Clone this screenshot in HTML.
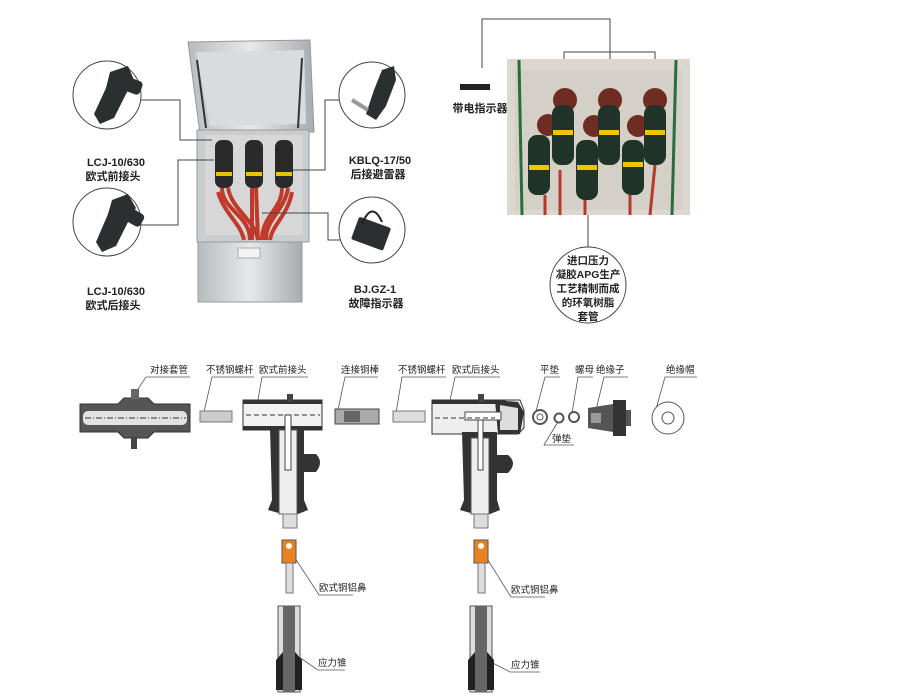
<!DOCTYPE html>
<html><head><meta charset="utf-8"><style>
html,body{margin:0;padding:0;background:#fff;}
svg{display:block;}
text{font-family:"Liberation Sans","Noto Sans CJK SC",sans-serif;fill:#222;}
</style></head><body>
<svg width="904" height="699" viewBox="0 0 904 699" xmlns="http://www.w3.org/2000/svg">
<defs>
<linearGradient id="steel" x1="0" x2="1"><stop offset="0" stop-color="#b9bcbf"/><stop offset="0.5" stop-color="#e6e8ea"/><stop offset="1" stop-color="#a9acaf"/></linearGradient>
</defs>
<!-- ===== cabinet ===== -->
<polygon points="188,42 310,40 314,132 200,134" fill="url(#steel)" stroke="#999"/>
<polygon points="196,52 304,50 306,124 210,126" fill="#d9dbdc"/>
<line x1="197" y1="60" x2="206" y2="128" stroke="#333" stroke-width="2"/>
<line x1="302" y1="58" x2="298" y2="128" stroke="#333" stroke-width="2"/>
<rect x="197" y="130" width="112" height="112" fill="#c9cdd0" stroke="#999"/>
<rect x="205" y="135" width="98" height="100" fill="#d6d7d6"/>
<rect x="198" y="242" width="104" height="60" fill="url(#steel)" stroke="#999"/>
<rect x="238" y="248" width="22" height="10" fill="#f4f4f4" stroke="#aaa"/>
<g fill="#2a2a2a">
<rect x="215" y="140" width="18" height="48" rx="7"/>
<rect x="245" y="140" width="18" height="48" rx="7"/>
<rect x="275" y="140" width="18" height="48" rx="7"/>
</g>
<g fill="#e9c400"><rect x="216" y="172" width="16" height="4"/><rect x="246" y="172" width="16" height="4"/><rect x="276" y="172" width="16" height="4"/></g>
<g stroke="#c0392b" stroke-width="4" fill="none">
<path d="M222 188 C222 210 250 215 250 240"/><path d="M228 188 C232 210 255 220 258 240"/>
<path d="M252 188 L252 240"/><path d="M256 188 L258 240"/>
<path d="M282 188 C282 210 262 215 262 240"/><path d="M288 188 C285 210 265 220 266 240"/>
<path d="M218 192 C225 215 240 222 244 240"/><path d="M292 192 C288 215 272 225 270 240"/>
</g>
<g stroke="#444" fill="none" stroke-width="1">
<polyline points="140,100 180,100 180,140 212,140"/>
<polyline points="140,225 178,225 178,160 214,160"/>
<polyline points="340,100 325,100 325,170 293,170"/>
<polyline points="340,240 328,240 328,213 262,213"/>
</g>
<circle cx="107" cy="95" r="34" fill="#fff" stroke="#444"/>
<circle cx="107" cy="222" r="34" fill="#fff" stroke="#444"/>
<circle cx="372" cy="95" r="33" fill="#fff" stroke="#444"/>
<circle cx="372" cy="230" r="33" fill="#fff" stroke="#444"/>
<g fill="#2b2f2f">
<polygon points="110,72 128,66 134,80 126,94 114,118 100,124 94,114 106,88"/>
<rect x="120" y="78" width="22" height="14" rx="4" transform="rotate(20 130 85)"/>
<polygon points="112,200 128,194 136,208 128,222 116,246 102,252 96,242 108,214"/>
<rect x="122" y="208" width="22" height="14" rx="4" transform="rotate(30 130 215)"/>
<polygon points="382,70 394,66 396,80 386,106 376,120 366,114 374,90"/>
<rect x="354" y="222" width="34" height="24" rx="2" transform="rotate(20 372 234)"/>
</g>
<line x1="352" y1="100" x2="368" y2="110" stroke="#999" stroke-width="4"/>
<path d="M362 224 Q372 200 382 222" stroke="#222" fill="none" stroke-width="2"/>
<g font-size="11" text-anchor="middle" font-weight="bold">
<text x="116" y="166">LCJ-10/630</text><text x="113" y="180">欧式前接头</text>
<text x="116" y="295">LCJ-10/630</text><text x="113" y="309">欧式后接头</text>
<text x="380" y="164">KBLQ-17/50</text><text x="378" y="178">后接避雷器</text>
<text x="375" y="293">BJ.GZ-1</text><text x="376" y="307">故障指示器</text>
</g>
<!-- ===== right photo ===== -->
<g stroke="#444" fill="none">
<polyline points="482,68 482,19 610,19 610,90"/>
<polyline points="564,90 564,52 655,52 655,90"/>
<line x1="588" y1="210" x2="588" y2="248"/>
</g>
<rect x="507" y="59" width="183" height="156" fill="#dcd8cf"/>
<rect x="515" y="70" width="168" height="140" fill="#d4d0c7"/>
<line x1="519" y1="60" x2="522" y2="215" stroke="#2b6b3a" stroke-width="3"/>
<line x1="676" y1="60" x2="672" y2="215" stroke="#2b6b3a" stroke-width="3"/>
<g fill="#6e2c22"><circle cx="565" cy="100" r="12"/><circle cx="610" cy="100" r="12"/><circle cx="655" cy="100" r="12"/><circle cx="548" cy="125" r="11"/><circle cx="594" cy="126" r="11"/><circle cx="638" cy="126" r="11"/></g>
<g fill="#1f3328">
<rect x="552" y="105" width="22" height="60" rx="9"/><rect x="598" y="105" width="22" height="60" rx="9"/><rect x="644" y="105" width="22" height="60" rx="9"/>
<rect x="528" y="135" width="22" height="60" rx="9"/><rect x="576" y="140" width="22" height="60" rx="9"/><rect x="622" y="140" width="22" height="55" rx="9"/>
</g>
<g fill="#f0c400"><rect x="553" y="130" width="20" height="5"/><rect x="599" y="130" width="20" height="5"/><rect x="645" y="130" width="20" height="5"/><rect x="529" y="165" width="20" height="5"/><rect x="577" y="165" width="20" height="5"/><rect x="623" y="162" width="20" height="5"/></g>
<g stroke="#b33a2c" stroke-width="3" fill="none"><path d="M545 195 L545 215"/><path d="M585 200 L585 215"/><path d="M630 195 L630 215"/><path d="M560 170 L560 215"/><path d="M655 165 L650 215"/></g>
<rect x="460" y="84" width="30" height="6" fill="#222"/>
<text x="480" y="112" font-size="11" text-anchor="middle" font-weight="bold">带电指示器</text>
<circle cx="588" cy="285" r="38" fill="#fff" stroke="#444"/>
<g font-size="10.5" text-anchor="middle" font-weight="bold"><text x="588" y="264">进口压力</text><text x="588" y="278">凝胶APG生产</text><text x="588" y="292">工艺精制而成</text><text x="588" y="306">的环氧树脂</text><text x="588" y="320">套管</text></g>
<!-- ===== bottom exploded diagram ===== -->
<g font-size="9.5">
<text x="150" y="373">对接套管</text><text x="206" y="373">不锈钢螺杆</text><text x="259" y="373">欧式前接头</text>
<text x="341" y="373">连接铜棒</text><text x="398" y="373">不锈钢螺杆</text><text x="452" y="373">欧式后接头</text>
<text x="540" y="373">平垫</text><text x="575" y="373">螺母</text><text x="596" y="373">绝缘子</text><text x="666" y="373">绝缘帽</text>
<text x="552" y="442">弹垫</text>
<text x="319" y="591">欧式铜铝鼻</text><text x="511" y="593">欧式铜铝鼻</text>
<text x="318" y="666">应力锥</text><text x="511" y="668">应力锥</text>
</g>
<g stroke="#555" fill="none" stroke-width="0.8">
<polyline points="132,398 146,377 190,377"/><polyline points="204,412 212,377 254,377"/>
<polyline points="255,417 262,377 308,377"/><polyline points="338,410 345,377 378,377"/>
<polyline points="396,413 402,377 446,377"/><polyline points="448,410 455,377 500,377"/>
<polyline points="535,415 545,377 560,377"/><polyline points="572,413 578,377 593,377"/>
<polyline points="596,410 604,377 628,377"/><polyline points="653,420 665,377 697,377"/>
<polyline points="559,420 544,445 574,445"/>
<polyline points="293,555 319,595 353,595"/><polyline points="486,557 511,597 545,597"/>
<polyline points="296,655 318,670 345,670"/><polyline points="487,660 510,672 540,672"/>
</g>
<!-- sleeve -->
<path d="M80 404 L118 404 L124 398 L148 398 L154 404 L190 404 L190 432 L154 432 L148 438 L124 438 L118 432 L80 432 Z" fill="#555" stroke="#333"/>
<rect x="83" y="411" width="104" height="14" rx="5" fill="#e2e2e2"/>
<rect x="131" y="389" width="8" height="10" fill="#666"/>
<rect x="131" y="437" width="6" height="12" fill="#444"/>
<line x1="85" y1="418" x2="186" y2="418" stroke="#333" stroke-dasharray="6,2,1,2"/>
<rect x="200" y="411" width="32" height="11" fill="#ccc" stroke="#777"/>
<!-- front connector -->
<rect x="243" y="400" width="79" height="30" fill="#f2f2f2" stroke="#333"/>
<rect x="243" y="400" width="79" height="4" fill="#333"/>
<rect x="243" y="426" width="79" height="4" fill="#333"/>
<rect x="287" y="394" width="6" height="8" fill="#444"/>
<path d="M270 428 L304 428 L304 500 L308 510 L298 514 L282 514 L268 510 L272 500 Z" fill="#333"/>
<rect x="279" y="430" width="18" height="84" fill="#eee" stroke="#555"/>
<rect x="285" y="415" width="6" height="55" fill="#fff" stroke="#444"/>
<rect x="283" y="514" width="14" height="14" fill="#ddd" stroke="#777"/>
<path d="M304 454 L316 454 Q324 462 316 472 L304 472 Z" fill="#333"/>
<line x1="246" y1="415" x2="320" y2="415" stroke="#333" stroke-dasharray="5,3"/>
<rect x="335" y="409" width="44" height="15" fill="#aaa" stroke="#444"/>
<rect x="344" y="411" width="16" height="11" fill="#666"/>
<rect x="393" y="411" width="32" height="11" fill="#ddd" stroke="#777"/>
<!-- rear connector -->
<path d="M432 400 L520 400 L524 410 L524 428 L518 434 L432 434 Z" fill="#eee" stroke="#333"/>
<path d="M432 400 L505 400 L508 404 L432 404 Z" fill="#333"/>
<path d="M495 400 L518 402 L524 412 L520 434 L498 434 Z" fill="#333"/>
<path d="M500 405 L518 408 L518 430 L500 430 Z" fill="#ddd"/>
<rect x="478" y="394" width="6" height="8" fill="#444"/>
<rect x="465" y="412" width="36" height="8" fill="#fff" stroke="#444"/>
<path d="M462 432 L497 432 L497 500 L500 510 L490 514 L474 514 L460 510 L464 500 Z" fill="#333"/>
<rect x="471" y="438" width="18" height="76" fill="#eee" stroke="#555"/>
<rect x="478" y="420" width="5" height="50" fill="#fff" stroke="#444"/>
<rect x="474" y="514" width="14" height="14" fill="#ddd" stroke="#777"/>
<path d="M497 455 L508 455 Q518 463 508 473 L497 473 Z" fill="#333"/>
<line x1="435" y1="418" x2="495" y2="418" stroke="#333" stroke-dasharray="5,3"/>
<!-- washers etc -->
<circle cx="540" cy="417" r="7" fill="#fff" stroke="#555" stroke-width="2"/><circle cx="540" cy="417" r="3" fill="#fff" stroke="#555"/>
<circle cx="559" cy="418" r="4.5" fill="#fff" stroke="#555" stroke-width="2"/>
<circle cx="574" cy="417" r="5" fill="#fff" stroke="#555" stroke-width="2"/>
<polygon points="588,408 613,404 613,432 588,428" fill="#555"/>
<rect x="591" y="413" width="10" height="10" fill="#999"/>
<rect x="613" y="400" width="13" height="36" fill="#333"/>
<rect x="626" y="410" width="5" height="16" fill="#555"/>
<circle cx="668" cy="418" r="16" fill="#fff" stroke="#555"/><circle cx="668" cy="418" r="6" fill="#fff" stroke="#555"/>
<!-- lugs -->
<rect x="282" y="540" width="14" height="23" fill="#e8821e" stroke="#555"/><circle cx="289" cy="546" r="3" fill="#fff"/>
<rect x="286" y="563" width="7" height="30" fill="#ddd" stroke="#777"/>
<rect x="474" y="540" width="14" height="23" fill="#e8821e" stroke="#555"/><circle cx="481" cy="546" r="3" fill="#fff"/>
<rect x="478" y="563" width="7" height="30" fill="#ddd" stroke="#777"/>
<!-- stress cones -->
<rect x="278" y="606" width="22" height="86" fill="#ddd" stroke="#555"/><rect x="283" y="606" width="12" height="86" fill="#666"/>
<path d="M276 690 L276 660 L283 652 L283 690 Z M302 690 L302 660 L295 652 L295 690 Z" fill="#222"/>
<rect x="470" y="606" width="22" height="86" fill="#ddd" stroke="#555"/><rect x="475" y="606" width="12" height="86" fill="#666"/>
<path d="M468 690 L468 660 L475 652 L475 690 Z M494 690 L494 660 L487 652 L487 690 Z" fill="#222"/>
</svg>
</body></html>
